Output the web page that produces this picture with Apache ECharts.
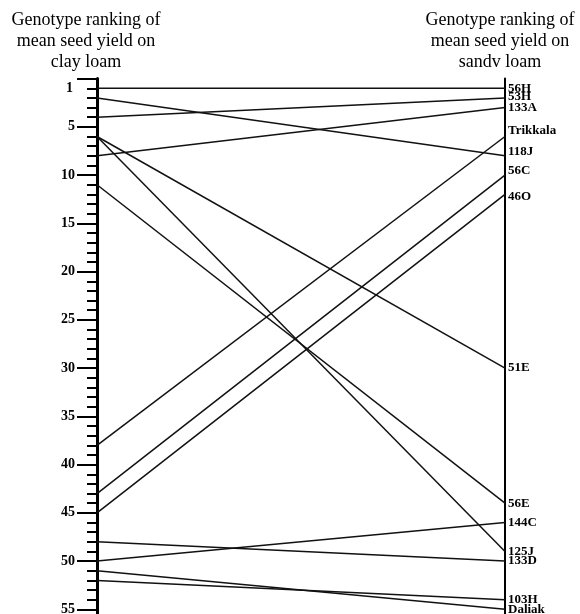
<!DOCTYPE html>
<html>
<head>
<meta charset="utf-8">
<script src="https://cdn.jsdelivr.net/npm/echarts@6/dist/echarts.min.js"></script>
<style>
  html, body { margin: 0; padding: 0; background: #fff; }
  #chart { width: 580px; height: 614px; }
</style>
</head>
<body>
<div id="chart"></div>
<script>
// genotype ranks
var genotypes = ["56H", "53H", "133A", "Trikkala", "118J", "56C", "46O", "51E", "56E", "144C", "125J", "133D", "103H", "Daliak"];
var clayRank = [1, 4, 8, 38, 2, 43, 45, 6, 11, 50, 6, 48, 52, 51];
var sandyRank = [1, 2, 3, 6, 8, 10, 12, 30, 44, 46, 49, 50, 54, 55];
var majorTicks = [5, 10, 15, 20, 25, 30, 35, 40, 45, 50, 55];

// small vertical nudges for the right-hand labels (style only)
var labelNudge = { "53H": -1, "Trikkala": -6, "118J": -4, "56C": -4, "46O": 2 };

var serif = "'Liberation Serif', 'DejaVu Serif', serif";
var chart = echarts.init(document.getElementById("chart"));

var series = genotypes.map(function (name, i) {
  return {
    name: name,
    type: "line",
    xAxisIndex: 0,
    yAxisIndex: 0,
    showSymbol: false,
    symbol: "none",
    silent: true,
    lineStyle: { color: "#111", width: 1.5 },
    endLabel: {
      show: true,
      formatter: name,
      color: "#000",
      fontFamily: serif,
      fontWeight: "bold",
      fontSize: 13,
      distance: 3,
      offset: [0, labelNudge[name] || 0],
    },
    data: [
      [0, clayRank[i]],
      [1, sandyRank[i]],
    ],
  };
});

chart.setOption({
  animation: false,
  grid: { left: 97, width: 408, top: 78.6, height: 540.4, outerBoundsMode: "none", containLabel: false },
  xAxis: { type: "value", min: 0, max: 1, show: false },
  yAxis: [
    {
      // minor ticks, every rank
      type: "value",
      inverse: true,
      min: 0,
      max: 56,
      interval: 1,
      position: "left",
      splitLine: { show: false },
      axisLine: { show: true, lineStyle: { color: "#000", width: 3 } },
      axisTick: { show: true, length: 10, lineStyle: { color: "#000", width: 2 } },
      axisLabel: {
        margin: 24,
        color: "#000",
        fontFamily: serif,
        fontWeight: "bold",
        fontSize: 14,
        formatter: function (v) {
          return v === 1 ? "1" : "";
        },
      },
    },
    {
      // major ticks, every 5 ranks
      type: "value",
      inverse: true,
      min: 0,
      max: 56,
      interval: 5,
      position: "left",
      splitLine: { show: false },
      axisLine: { show: false },
      axisTick: { show: true, length: 20, lineStyle: { color: "#000", width: 2 } },
      axisLabel: {
        margin: 22,
        color: "#000",
        fontFamily: serif,
        fontWeight: "bold",
        fontSize: 14,
        formatter: function (v) {
          return majorTicks.indexOf(v) >= 0 ? String(v) : "";
        },
      },
    },
    {
      // right axis, plain line
      type: "value",
      inverse: true,
      min: 0,
      max: 56,
      position: "right",
      splitLine: { show: false },
      axisLine: { show: true, lineStyle: { color: "#000", width: 2 } },
      axisTick: { show: false },
      axisLabel: { show: false },
    },
  ],
  graphic: [
    {
      type: "text",
      x: 86,
      y: 10,
      style: {
        text: "Genotype ranking of\nmean seed yield on\nclay loam",
        textAlign: "center",
        textVerticalAlign: "top",
        font: "18px " + serif,
        lineHeight: 21,
        fill: "#000",
      },
    },
    {
      type: "text",
      x: 500,
      y: 10,
      style: {
        text: "Genotype ranking of\nmean seed yield on\nsandv loam",
        textAlign: "center",
        textVerticalAlign: "top",
        font: "18px " + serif,
        lineHeight: 21,
        fill: "#000",
      },
    },
  ],
  series: series,
});
</script>
</body>
</html>
